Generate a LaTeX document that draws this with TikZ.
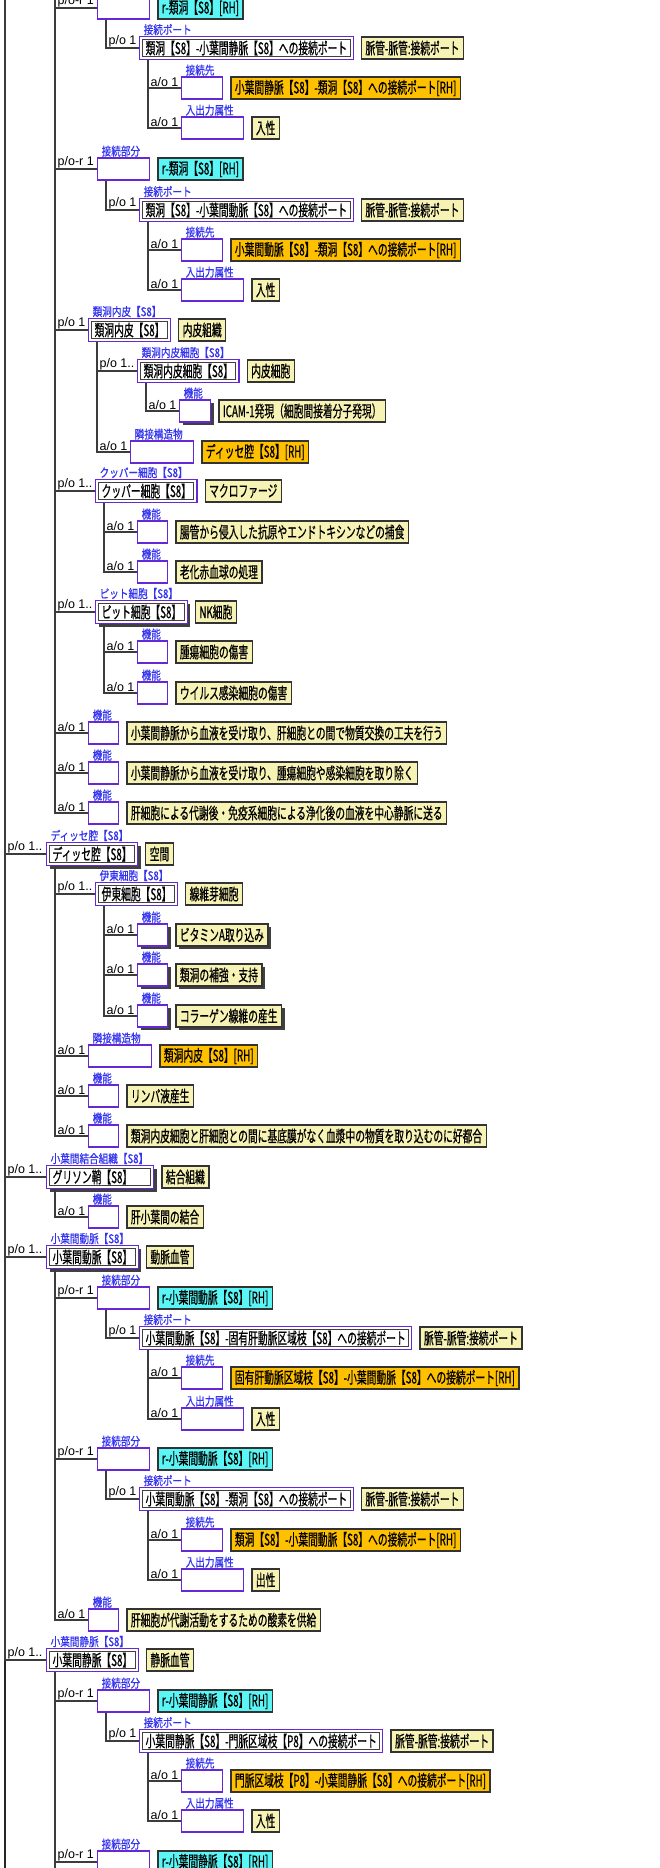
\documentclass[tikz,border=0pt]{standalone}
\usepackage{fontspec}
\setmainfont{Noto Sans CJK JP}[FakeStretch=0.61,FakeBold=0.6]
\newfontfamily\lblfont{Noto Sans CJK JP}[FakeStretch=0.8,FakeBold=0.4]
\newfontfamily\cardfont{Liberation Sans}
\usetikzlibrary{positioning,shadows}
\definecolor{slotc}{RGB}{100,40,215}
\definecolor{lblc}{RGB}{50,50,240}
\definecolor{notec}{RGB}{247,243,180}
\definecolor{refc}{RGB}{255,192,0}
\definecolor{rolec}{RGB}{90,245,245}
\definecolor{linec}{RGB}{60,60,60}

\begin{document}
\begin{tikzpicture}[
    x=1pt, y=-1pt,
    font=\fontsize{16}{17}\selectfont,
    slot/.style={draw=slotc, line width=1.3pt, fill=white, anchor=west,
        minimum width=#1, minimum height=22pt, inner sep=0pt},
    slot/.default=30pt,
    named/.style={draw=slotc, line width=1.3pt, fill=white, anchor=west,
        minimum height=23pt, inner xsep=6pt, inner ysep=2.5pt,
        path picture={\draw[black!75, line width=1pt]
            ([shift={(3pt,-3pt)}]path picture bounding box.north west) rectangle
            ([shift={(-3pt,3pt)}]path picture bounding box.south east);}},
    notebox/.style={draw=black!80, line width=1.2pt, fill=notec, anchor=west,
        minimum height=22pt, inner xsep=4pt, inner ysep=0pt},
    refbox/.style={notebox, fill=refc},
    rolebox/.style={notebox, fill=rolec},
    shd/.style={drop shadow={shadow xshift=3pt, shadow yshift=-3pt,
        fill=black!75, opacity=1}},
    lbl/.style={font=\lblfont\fontsize{12}{12}\selectfont, text=lblc,
        inner sep=0.5pt, anchor=south west, xshift=4pt},
    card/.style={font=\cardfont\fontsize{12.5}{13}\selectfont, anchor=south west,
        inner sep=0.5pt, xshift=1.5pt},
    conn/.style={draw=linec, line width=1.3pt},
]
    \useasboundingbox (0,0) rectangle (660,1868);
    \fill[white] (0,0) rectangle (660,1868);
    \clip (0,0) rectangle (660,1868);

    \coordinate (rootT) at (5,-10);
    \coordinate (rootE) at (5,1880);
    \draw[conn, line width=1.6pt, draw=black!85] (rootT) -- (rootE);
    \coordinate (sinT) at (55,-10);

    % 類洞 -- 小葉間静脈
    \node[slot=52pt, label={[lbl]north west:接続部分}] (J1) at (97,8) {};
    \node[rolebox, right=7pt of J1] (R1) {r-類洞【S8】[RH]};
    \draw[conn] (sinT) |- node[card]{p/o-r 1} (J1.west);
    \coordinate (J1T) at ([xshift=9pt]J1.south west);
    \node[named, label={[lbl]north west:接続ポート}] (P1) at (139,48) {類洞【S8】-小葉間静脈【S8】への接続ポート};
    \node[notebox, right=7pt of P1] (P1c) {脈管-脈管:接続ポート};
    \draw[conn] (J1T) |- node[card]{p/o 1} (P1.west);
    \coordinate (P1T) at ([xshift=9pt]P1.south west);
    \node[slot=41pt, label={[lbl]north west:接続先}] (T1) at (181,88) {};
    \node[refbox, right=7pt of T1] (T1r) {小葉間静脈【S8】-類洞【S8】への接続ポート[RH]};
    \draw[conn] (P1T) |- node[card]{a/o 1} (T1.west);
    \node[slot=62pt, label={[lbl]north west:入出力属性}] (IO1) at (181,128) {};
    \node[notebox, right=7pt of IO1] (IO1v) {入性};
    \draw[conn] (P1T) |- node[card]{a/o 1} (IO1.west);

    % 類洞 -- 小葉間動脈
    \node[slot=52pt, label={[lbl]north west:接続部分}] (J2) at (97,169) {};
    \node[rolebox, right=7pt of J2] (R2) {r-類洞【S8】[RH]};
    \draw[conn] (sinT) |- node[card]{p/o-r 1} (J2.west);
    \coordinate (J2T) at ([xshift=9pt]J2.south west);
    \node[named, label={[lbl]north west:接続ポート}] (P2) at (139,210) {類洞【S8】-小葉間動脈【S8】への接続ポート};
    \node[notebox, right=7pt of P2] (P2c) {脈管-脈管:接続ポート};
    \draw[conn] (J2T) |- node[card]{p/o 1} (P2.west);
    \coordinate (P2T) at ([xshift=9pt]P2.south west);
    \node[slot=41pt, label={[lbl]north west:接続先}] (T2) at (181,250) {};
    \node[refbox, right=7pt of T2] (T2r) {小葉間動脈【S8】-類洞【S8】への接続ポート[RH]};
    \draw[conn] (P2T) |- node[card]{a/o 1} (T2.west);
    \node[slot=62pt, label={[lbl]north west:入出力属性}] (IO2) at (181,290) {};
    \node[notebox, right=7pt of IO2] (IO2v) {入性};
    \draw[conn] (P2T) |- node[card]{a/o 1} (IO2.west);

    % 類洞内皮
    \node[named, label={[lbl]north west:類洞内皮【S8】}] (E1) at (88,330) {類洞内皮【S8】};
    \node[notebox, right=7pt of E1] (E1c) {内皮組織};
    \draw[conn] (sinT) |- node[card]{p/o 1} (E1.west);
    \coordinate (E1T) at ([xshift=9pt]E1.south west);
    \node[named, label={[lbl]north west:類洞内皮細胞【S8】}] (EC) at (137,371) {類洞内皮細胞【S8】};
    \node[notebox, right=7pt of EC] (ECc) {内皮細胞};
    \draw[conn] (E1T) |- node[card]{p/o 1..} (EC.west);
    \coordinate (ECT) at ([xshift=9pt]EC.south west);
    \node[slot=31pt, shd, label={[lbl]north west:機能}] (EF) at (179,411) {};
    \node[notebox, right=7pt of EF] (EFc) {ICAM-1発現（細胞間接着分子発現）};
    \draw[conn] (ECT) |- node[card]{a/o 1} (EF.west);
    \node[slot=63pt, label={[lbl]north west:隣接構造物}] (EA) at (130,452) {};
    \node[refbox, right=7pt of EA] (EAr) {ディッセ腔【S8】[RH]};
    \draw[conn] (E1T) |- node[card]{a/o 1} (EA.west);

    % クッパー細胞
    \node[named, label={[lbl]north west:クッパー細胞【S8】}] (K) at (95,491) {クッパー細胞【S8】};
    \node[notebox, right=7pt of K] (Kc) {マクロファージ};
    \draw[conn] (sinT) |- node[card]{p/o 1..} (K.west);
    \coordinate (KT) at ([xshift=9pt]K.south west);
    \node[slot, label={[lbl]north west:機能}] (KF1) at (137,532) {};
    \node[notebox, right=7pt of KF1] (KF1c) {腸管から侵入した抗原やエンドトキシンなどの捕食};
    \draw[conn] (KT) |- node[card]{a/o 1} (KF1.west);
    \node[slot, label={[lbl]north west:機能}] (KF2) at (137,572) {};
    \node[notebox, right=7pt of KF2] (KF2c) {老化赤血球の処理};
    \draw[conn] (KT) |- node[card]{a/o 1} (KF2.west);

    % ピット細胞
    \node[named, shd, label={[lbl]north west:ピット細胞【S8】}] (NK) at (95,612) {ピット細胞【S8】};
    \node[notebox, right=7pt of NK] (NKc) {NK細胞};
    \draw[conn] (sinT) |- node[card]{p/o 1..} (NK.west);
    \coordinate (NKT) at ([xshift=9pt]NK.south west);
    \node[slot, label={[lbl]north west:機能}] (NF1) at (137,652) {};
    \node[notebox, right=7pt of NF1] (NF1c) {腫瘍細胞の傷害};
    \draw[conn] (NKT) |- node[card]{a/o 1} (NF1.west);
    \node[slot, label={[lbl]north west:機能}] (NF2) at (137,693) {};
    \node[notebox, right=7pt of NF2] (NF2c) {ウイルス感染細胞の傷害};
    \draw[conn] (NKT) |- node[card]{a/o 1} (NF2.west);

    % 類洞の機能
    \node[slot, label={[lbl]north west:機能}] (F1) at (88,733) {};
    \node[notebox, right=7pt of F1] (F1c) {小葉間静脈から血液を受け取り、肝細胞との間で物質交換の工夫を行う};
    \draw[conn] (sinT) |- node[card]{a/o 1} (F1.west);
    \node[slot, label={[lbl]north west:機能}] (F2) at (88,773) {};
    \node[notebox, right=7pt of F2] (F2c) {小葉間静脈から血液を受け取り、腫瘍細胞や感染細胞を取り除く};
    \draw[conn] (sinT) |- node[card]{a/o 1} (F2.west);
    \node[slot, label={[lbl]north west:機能}] (F3) at (88,813) {};
    \node[notebox, right=7pt of F3] (F3c) {肝細胞による代謝後・免疫系細胞による浄化後の血液を中心静脈に送る};
    \draw[conn] (sinT) |- node[card]{a/o 1} (F3.west);

    % ディッセ腔
    \node[named, shd, label={[lbl]north west:ディッセ腔【S8】}] (D) at (46,854) {ディッセ腔【S8】};
    \node[notebox, right=7pt of D] (Dc) {空間};
    \draw[conn] (rootT) |- node[card]{p/o 1..} (D.west);
    \coordinate (DT) at ([xshift=9pt]D.south west);
    \node[named, label={[lbl]north west:伊東細胞【S8】}] (I) at (95,894) {伊東細胞【S8】};
    \node[notebox, right=7pt of I] (Ic) {線維芽細胞};
    \draw[conn] (DT) |- node[card]{p/o 1..} (I.west);
    \coordinate (IT) at ([xshift=9pt]I.south west);
    \node[slot, shd, label={[lbl]north west:機能}] (IF1) at (137,935) {};
    \node[notebox, shd, right=7pt of IF1] (IF1c) {ビタミンA取り込み};
    \draw[conn] (IT) |- node[card]{a/o 1} (IF1.west);
    \node[slot, shd, label={[lbl]north west:機能}] (IF2) at (137,975) {};
    \node[notebox, shd, right=7pt of IF2] (IF2c) {類洞の補強・支持};
    \draw[conn] (IT) |- node[card]{a/o 1} (IF2.west);
    \node[slot, shd, label={[lbl]north west:機能}] (IF3) at (137,1016) {};
    \node[notebox, shd, right=7pt of IF3] (IF3c) {コラーゲン線維の産生};
    \draw[conn] (IT) |- node[card]{a/o 1} (IF3.west);
    \node[slot=63pt, label={[lbl]north west:隣接構造物}] (DA) at (88,1056) {};
    \node[refbox, right=7pt of DA] (DAr) {類洞内皮【S8】[RH]};
    \draw[conn] (DT) |- node[card]{a/o 1} (DA.west);
    \node[slot, label={[lbl]north west:機能}] (DF1) at (88,1096) {};
    \node[notebox, right=7pt of DF1] (DF1c) {リンパ液産生};
    \draw[conn] (DT) |- node[card]{a/o 1} (DF1.west);
    \node[slot, label={[lbl]north west:機能}] (DF2) at (88,1136) {};
    \node[notebox, right=7pt of DF2] (DF2c) {類洞内皮細胞と肝細胞との間に基底膜がなく血漿中の物質を取り込むのに好都合};
    \draw[conn] (DT) |- node[card]{a/o 1} (DF2.west);

    % グリソン鞘
    \node[named, shd, text width=95pt, align=left, label={[lbl]north west:小葉間結合組織【S8】}] (G) at (46,1177) {グリソン鞘【S8】};
    \node[notebox, right=7pt of G] (Gc) {結合組織};
    \draw[conn] (rootT) |- node[card]{p/o 1..} (G.west);
    \coordinate (GT) at ([xshift=9pt]G.south west);
    \node[slot, label={[lbl]north west:機能}] (GF) at (88,1217) {};
    \node[notebox, right=7pt of GF] (GFc) {肝小葉間の結合};
    \draw[conn] (GT) |- node[card]{a/o 1} (GF.west);

    % 小葉間動脈
    \node[named, shd, label={[lbl]north west:小葉間動脈【S8】}] (HA) at (46,1257) {小葉間動脈【S8】};
    \node[notebox, right=7pt of HA] (HAc) {動脈血管};
    \draw[conn] (rootT) |- node[card]{p/o 1..} (HA.west);
    \coordinate (HAT) at ([xshift=9pt]HA.south west);
    \node[slot=52pt, label={[lbl]north west:接続部分}] (HJ1) at (97,1298) {};
    \node[rolebox, right=7pt of HJ1] (HR1) {r-小葉間動脈【S8】[RH]};
    \draw[conn] (HAT) |- node[card]{p/o-r 1} (HJ1.west);
    \coordinate (HJ1T) at ([xshift=9pt]HJ1.south west);
    \node[named, label={[lbl]north west:接続ポート}] (HP1) at (139,1338) {小葉間動脈【S8】-固有肝動脈区域枝【S8】への接続ポート};
    \node[notebox, right=7pt of HP1] (HP1c) {脈管-脈管:接続ポート};
    \draw[conn] (HJ1T) |- node[card]{p/o 1} (HP1.west);
    \coordinate (HP1T) at ([xshift=9pt]HP1.south west);
    \node[slot=41pt, label={[lbl]north west:接続先}] (HT1) at (181,1378) {};
    \node[refbox, right=7pt of HT1] (HT1r) {固有肝動脈区域枝【S8】-小葉間動脈【S8】への接続ポート[RH]};
    \draw[conn] (HP1T) |- node[card]{a/o 1} (HT1.west);
    \node[slot=62pt, label={[lbl]north west:入出力属性}] (HIO1) at (181,1419) {};
    \node[notebox, right=7pt of HIO1] (HIO1v) {入性};
    \draw[conn] (HP1T) |- node[card]{a/o 1} (HIO1.west);
    \node[slot=52pt, label={[lbl]north west:接続部分}] (HJ2) at (97,1459) {};
    \node[rolebox, right=7pt of HJ2] (HR2) {r-小葉間動脈【S8】[RH]};
    \draw[conn] (HAT) |- node[card]{p/o-r 1} (HJ2.west);
    \coordinate (HJ2T) at ([xshift=9pt]HJ2.south west);
    \node[named, label={[lbl]north west:接続ポート}] (HP2) at (139,1499) {小葉間動脈【S8】-類洞【S8】への接続ポート};
    \node[notebox, right=7pt of HP2] (HP2c) {脈管-脈管:接続ポート};
    \draw[conn] (HJ2T) |- node[card]{p/o 1} (HP2.west);
    \coordinate (HP2T) at ([xshift=9pt]HP2.south west);
    \node[slot=41pt, label={[lbl]north west:接続先}] (HT2) at (181,1540) {};
    \node[refbox, right=7pt of HT2] (HT2r) {類洞【S8】-小葉間動脈【S8】への接続ポート[RH]};
    \draw[conn] (HP2T) |- node[card]{a/o 1} (HT2.west);
    \node[slot=62pt, label={[lbl]north west:入出力属性}] (HIO2) at (181,1580) {};
    \node[notebox, right=7pt of HIO2] (HIO2v) {出性};
    \draw[conn] (HP2T) |- node[card]{a/o 1} (HIO2.west);
    \node[slot, label={[lbl]north west:機能}] (HF) at (88,1620) {};
    \node[notebox, right=7pt of HF] (HFc) {肝細胞が代謝活動をするための酸素を供給};
    \draw[conn] (HAT) |- node[card]{a/o 1} (HF.west);

    % 小葉間静脈
    \node[named, label={[lbl]north west:小葉間静脈【S8】}] (PV) at (46,1660) {小葉間静脈【S8】};
    \node[notebox, right=7pt of PV] (PVc) {静脈血管};
    \draw[conn] (rootT) |- node[card]{p/o 1..} (PV.west);
    \coordinate (PVT) at ([xshift=9pt]PV.south west);
    \coordinate (PVE) at (55,1880);
    \draw[conn] (PVT) -- (PVE);
    \node[slot=52pt, label={[lbl]north west:接続部分}] (VJ1) at (97,1701) {};
    \node[rolebox, right=7pt of VJ1] (VR1) {r-小葉間静脈【S8】[RH]};
    \draw[conn] (PVT) |- node[card]{p/o-r 1} (VJ1.west);
    \coordinate (VJ1T) at ([xshift=9pt]VJ1.south west);
    \node[named, label={[lbl]north west:接続ポート}] (VP1) at (139,1741) {小葉間静脈【S8】-門脈区域枝【P8】への接続ポート};
    \node[notebox, right=7pt of VP1] (VP1c) {脈管-脈管:接続ポート};
    \draw[conn] (VJ1T) |- node[card]{p/o 1} (VP1.west);
    \coordinate (VP1T) at ([xshift=9pt]VP1.south west);
    \node[slot=41pt, label={[lbl]north west:接続先}] (VT1) at (181,1781) {};
    \node[refbox, right=7pt of VT1] (VT1r) {門脈区域枝【P8】-小葉間静脈【S8】への接続ポート[RH]};
    \draw[conn] (VP1T) |- node[card]{a/o 1} (VT1.west);
    \node[slot=62pt, label={[lbl]north west:入出力属性}] (VIO1) at (181,1821) {};
    \node[notebox, right=7pt of VIO1] (VIO1v) {入性};
    \draw[conn] (VP1T) |- node[card]{a/o 1} (VIO1.west);
    \node[slot=52pt, label={[lbl]north west:接続部分}] (VJ2) at (97,1862) {};
    \node[rolebox, right=7pt of VJ2] (VR2) {r-小葉間静脈【S8】[RH]};
    \draw[conn] (PVT) |- node[card]{p/o-r 1} (VJ2.west);
\end{tikzpicture}
\end{document}
